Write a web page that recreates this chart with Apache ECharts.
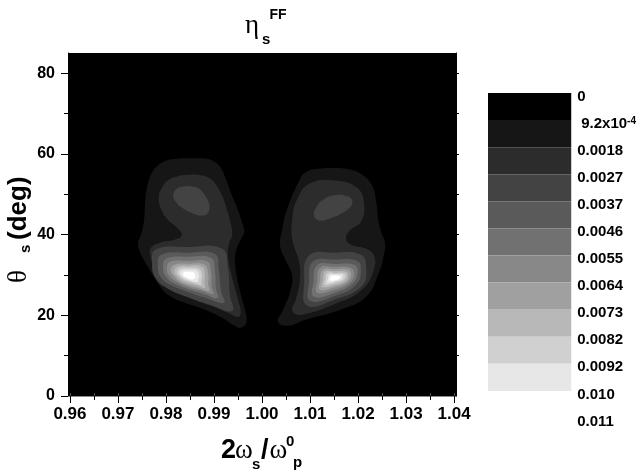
<!DOCTYPE html>
<html><head><meta charset="utf-8">
<script src="https://cdn.jsdelivr.net/npm/echarts@6/dist/echarts.min.js"></script>
<style>html,body{margin:0;padding:0;background:#fff}#c{width:639px;height:473px}</style>
</head><body><div id="c"></div>
<script>
// ---- axis ticks / labels ----
const xTicks = [0.96, 0.97, 0.98, 0.99, 1.00, 1.01, 1.02, 1.03, 1.04];
const xMinorTicks = [0.965, 0.975, 0.985, 0.995, 1.005, 1.015, 1.025, 1.035];
const yTicks = [0, 20, 40, 60, 80];
const yMinorTicks = [10, 30, 50, 70];
const yRightTicks = [10, 20, 30, 40, 50, 60, 70, 80];
const levelLabels = ['0', '9.2x10^-4', '0.0018', '0.0027', '0.0037', '0.0046', '0.0055', '0.0064', '0.0073', '0.0082', '0.0092', '0.010', '0.011'];
const levelColors = ['#000000', '#161616', '#2c2c2c', '#434343', '#5a5a5a', '#717171', '#888888', '#a0a0a0', '#b8b8b8', '#d0d0d0', '#e7e7e7', '#ffffff'];

// ---- contour outlines [2ws/wp, theta_s] ----
const leftL1 = [[0.9823,58.8],[0.9854,58.9],[0.9885,58.8],[0.9902,58.0],[0.9915,56.4],[0.9925,53.7],[0.9935,50.4],[0.9948,46.7],[0.9958,43.2],[0.9963,40.7],[0.9956,38.8],[0.9948,36.8],[0.9944,34.3],[0.9946,30.8],[0.9952,27.1],[0.9960,23.4],[0.9967,20.1],[0.9967,18.1],[0.9956,16.9],[0.9940,17.6],[0.9917,19.4],[0.9881,21.4],[0.9840,23.1],[0.9808,24.8],[0.9788,27.1],[0.9771,30.3],[0.9756,33.3],[0.9744,36.3],[0.9742,37.8],[0.9748,40.0],[0.9754,43.2],[0.9756,46.7],[0.9758,49.9],[0.9763,52.9],[0.9771,55.4],[0.9783,57.1],[0.9800,58.3]];
const leftL2 = [[0.9785,49.4],[0.9792,51.7],[0.9804,53.4],[0.9823,54.4],[0.9846,54.8],[0.9873,54.7],[0.9892,53.9],[0.9904,52.4],[0.9917,49.7],[0.9927,46.2],[0.9935,42.7],[0.9938,40.0],[0.9931,37.5],[0.9929,35.0],[0.9933,31.8],[0.9942,27.6],[0.9950,23.9],[0.9956,20.6],[0.9950,19.6],[0.9929,20.6],[0.9892,22.4],[0.9850,24.3],[0.9813,26.6],[0.9788,29.8],[0.9773,32.5],[0.9767,35.0],[0.9769,36.8],[0.9788,38.0],[0.9819,38.8],[0.9833,39.8],[0.9825,41.5],[0.9804,43.7],[0.9790,46.2]];
const leftUpL3 = [[0.9815,49.7],[0.9821,51.2],[0.9835,51.9],[0.9854,51.9],[0.9871,51.2],[0.9883,49.4],[0.9890,47.5],[0.9888,45.5],[0.9875,44.7],[0.9856,45.2],[0.9835,46.5],[0.9821,48.0]];
const leftL3 = [[0.9779,36.3],[0.9846,36.9],[0.9917,36.5],[0.9929,31.8],[0.9933,25.1],[0.9938,21.1],[0.9892,22.6],[0.9850,24.3],[0.9804,26.6],[0.9779,29.1],[0.9771,32.8]];
const leftL4 = [[0.9790,35.0],[0.9846,35.5],[0.9902,35.2],[0.9910,31.3],[0.9915,25.8],[0.9921,23.1],[0.9883,24.3],[0.9850,25.6],[0.9813,27.3],[0.9790,29.3],[0.9783,32.3]];
const leftL5 = [[0.9800,34.0],[0.9846,34.5],[0.9894,34.2],[0.9902,30.8],[0.9904,26.6],[0.9908,24.3],[0.9879,25.3],[0.9850,26.3],[0.9819,27.8],[0.9800,29.6],[0.9794,31.8]];
const leftL6 = [[0.9808,33.2],[0.9846,33.5],[0.9886,33.3],[0.9894,30.6],[0.9895,27.1],[0.9898,25.3],[0.9875,26.1],[0.9850,26.8],[0.9825,28.1],[0.9808,29.6],[0.9802,31.3]];
const leftL7 = [[0.9817,32.5],[0.9846,32.8],[0.9880,32.5],[0.9888,30.3],[0.9888,27.6],[0.9890,26.1],[0.9871,26.6],[0.9850,27.3],[0.9829,28.3],[0.9817,29.6],[0.9810,31.1]];
const leftL8 = [[0.9823,32.0],[0.9846,32.3],[0.9875,32.0],[0.9881,30.1],[0.9880,28.1],[0.9881,26.8],[0.9867,27.3],[0.9850,27.8],[0.9833,28.6],[0.9823,29.6],[0.9817,30.8]];
const leftL9 = [[0.9829,31.6],[0.9846,31.8],[0.9869,31.5],[0.9875,29.8],[0.9873,28.3],[0.9873,27.6],[0.9863,27.8],[0.9850,28.3],[0.9838,28.8],[0.9829,29.7],[0.9823,30.6]];
const leftL10 = [[0.9834,31.2],[0.9847,31.3],[0.9864,31.1],[0.9869,29.8],[0.9867,28.7],[0.9866,28.3],[0.9856,28.4],[0.9846,28.8],[0.9838,29.2],[0.9832,29.8],[0.9829,30.4]];
const leftL11 = [[0.9839,30.7],[0.9848,30.8],[0.9858,30.6],[0.9861,29.7],[0.9859,29.1],[0.9852,28.9],[0.9844,29.3],[0.9838,29.7],[0.9835,30.2]];

const rightL1 = [[1.0090,55.4],[1.0117,56.3],[1.0152,56.5],[1.0183,56.1],[1.0208,54.9],[1.0229,52.2],[1.0238,48.0],[1.0242,43.7],[1.0248,40.7],[1.0256,38.0],[1.0254,35.0],[1.0242,30.1],[1.0217,24.6],[1.0163,21.4],[1.0090,18.9],[1.0054,17.4],[1.0033,18.4],[1.0044,21.4],[1.0058,25.6],[1.0063,29.6],[1.0052,33.0],[1.0038,37.0],[1.0042,41.2],[1.0052,46.2],[1.0079,53.7]];
const rightL2 = [[1.0100,52.7],[1.0152,53.4],[1.0200,51.4],[1.0213,47.0],[1.0206,43.2],[1.0183,41.0],[1.0175,39.0],[1.0185,37.5],[1.0217,36.5],[1.0233,34.8],[1.0233,31.3],[1.0208,26.3],[1.0154,22.9],[1.0081,20.1],[1.0063,21.1],[1.0071,24.1],[1.0079,28.8],[1.0077,33.3],[1.0063,38.8],[1.0063,43.7],[1.0073,48.7]];
const rightUpL3 = [[1.0108,44.7],[1.0115,47.2],[1.0131,48.9],[1.0154,49.8],[1.0175,49.6],[1.0188,48.4],[1.0183,46.7],[1.0165,45.2],[1.0142,44.0],[1.0119,43.5]];
const rightL3 = [[1.0098,34.8],[1.0152,35.5],[1.0206,35.0],[1.0217,31.8],[1.0208,27.3],[1.0152,23.9],[1.0094,22.4],[1.0088,28.3]];
const rightL4 = [[1.0106,33.3],[1.0152,33.8],[1.0198,33.5],[1.0206,31.1],[1.0196,27.6],[1.0152,24.8],[1.0100,23.6],[1.0098,28.3]];
const rightL5 = [[1.0115,32.4],[1.0152,32.7],[1.0192,32.5],[1.0199,30.6],[1.0188,27.8],[1.0152,25.6],[1.0108,24.6],[1.0107,28.3]];
const rightL6 = [[1.0121,31.8],[1.0152,32.0],[1.0185,31.8],[1.0192,30.2],[1.0182,28.0],[1.0152,26.3],[1.0115,25.6],[1.0115,28.4]];
const rightL7 = [[1.0127,31.3],[1.0152,31.4],[1.0180,31.3],[1.0185,29.9],[1.0177,28.2],[1.0152,27.0],[1.0121,26.3],[1.0121,28.6]];
const rightL8 = [[1.0132,30.9],[1.0152,30.9],[1.0175,30.8],[1.0179,29.7],[1.0173,28.4],[1.0152,27.5],[1.0126,27.0],[1.0127,28.7]];
const rightL9 = [[1.0136,30.5],[1.0152,30.5],[1.0171,30.4],[1.0174,29.6],[1.0169,28.7],[1.0152,28.0],[1.0131,27.6],[1.0132,28.8]];
const rightL10 = [[1.0140,30.1],[1.0153,30.1],[1.0167,30.1],[1.0168,29.4],[1.0165,28.9],[1.0152,28.4],[1.0136,28.1],[1.0137,28.9]];
const rightL11 = [[1.0145,29.8],[1.0154,29.9],[1.0162,29.7],[1.0163,29.3],[1.0160,29.0],[1.0152,28.7],[1.0142,28.6],[1.0141,29.1]];

// drawing order: [level, outline]
const contourList = [
  [1, leftL1], [1, rightL1],
  [2, leftL2], [2, rightL2],
  [3, leftUpL3], [3, rightUpL3], [3, leftL3], [3, rightL3],
  [4, leftL4], [4, rightL4],
  [5, leftL5], [5, rightL5],
  [6, leftL6], [6, rightL6],
  [7, leftL7], [7, rightL7],
  [8, leftL8], [8, rightL8],
  [9, leftL9], [9, rightL9],
  [10, leftL10], [10, rightL10],
  [11, leftL11], [11, rightL11]
];

const SANS = "'Liberation Sans', Arial, sans-serif";
const SERIF = "'Liberation Serif', 'Times New Roman', serif";
const chart = echarts.init(document.getElementById('c'), null, {renderer: 'canvas'});

const hidden = {show: false};
const option = {
  animation: false,
  backgroundColor: '#ffffff',
  grid: [
    {left: 68, top: 53, width: 388, height: 343, show: true, backgroundColor: '#000000', borderWidth: 0},
    {left: 488, top: 93, width: 85, height: 325, show: false}
  ],
  xAxis: [
    {gridIndex: 0, type: 'value', position: 'bottom', min: 0.9596, max: 1.0404,
      axisLine: {show: true, lineStyle: {color: '#000', width: 1}},
      axisTick: {show: true, customValues: xTicks, length: 7, lineStyle: {color: '#000', width: 1}},
      axisLabel: {customValues: xTicks, formatter: v => v.toFixed(2), fontSize: 17, fontWeight: 'bold', fontFamily: SANS, color: '#000', margin: 10},
      splitLine: hidden},
    {gridIndex: 0, type: 'value', position: 'bottom', min: 0.9596, max: 1.0404,
      axisLine: hidden,
      axisTick: {show: true, customValues: xMinorTicks, length: 4, lineStyle: {color: '#000', width: 1}},
      axisLabel: hidden, splitLine: hidden},
    {gridIndex: 0, type: 'value', position: 'top', min: 0.9596, max: 1.0404,
      axisLine: {show: true, lineStyle: {color: '#8a8a8a', width: 1}},
      axisTick: {show: true, customValues: xTicks.concat(xMinorTicks), length: 3, lineStyle: {color: '#444', width: 1}},
      axisLabel: hidden, splitLine: hidden},
    {gridIndex: 1, type: 'value', min: 0, max: 1, show: false}
  ],
  yAxis: [
    {gridIndex: 0, type: 'value', position: 'left', min: 0, max: 85,
      axisLine: {show: true, lineStyle: {color: '#000', width: 1}},
      axisTick: {show: true, customValues: yTicks, length: 7, lineStyle: {color: '#000', width: 1}},
      axisLabel: {customValues: yTicks, fontSize: 16, fontWeight: 'bold', fontFamily: SANS, color: '#000', margin: 13},
      splitLine: hidden},
    {gridIndex: 0, type: 'value', position: 'left', min: 0, max: 85,
      axisLine: hidden,
      axisTick: {show: true, customValues: yMinorTicks, length: 4, lineStyle: {color: '#000', width: 1}},
      axisLabel: hidden, splitLine: hidden},
    {gridIndex: 0, type: 'value', position: 'right', min: 0, max: 85,
      axisLine: {show: true, lineStyle: {color: '#000', width: 1}},
      axisTick: {show: true, customValues: yRightTicks, length: 3, lineStyle: {color: '#000', width: 1}},
      axisLabel: hidden, splitLine: hidden},
    {gridIndex: 1, type: 'value', position: 'right', min: 0, max: 12, inverse: true,
      axisLine: hidden, axisTick: hidden, splitLine: hidden,
      axisLabel: {customValues: levelLabels.map((t, i) => i), margin: 6, padding: [7, 0, 0, 0],
        fontSize: 15, fontWeight: 'bold', fontFamily: SANS, color: '#000',
        formatter: v => levelLabels[v].indexOf('^') >= 0
          ? '{m|' + levelLabels[v].split('^')[0] + '}{e|' + levelLabels[v].split('^')[1] + '}'
          : levelLabels[v],
        rich: {
          m: {fontSize: 15, fontWeight: 'bold', fontFamily: SANS, color: '#000', padding: [0, 0, 0, 4]},
          e: {fontSize: 10, fontWeight: 'bold', fontFamily: SANS, color: '#000', verticalAlign: 'top'}
        }}}
  ],
  series: [
    {type: 'custom', xAxisIndex: 0, yAxisIndex: 0, silent: true,
      data: contourList.map((c, i) => [c[1][0][0], c[1][0][1], i]),
      renderItem: (params, api) => {
        const c = contourList[api.value(2)];
        const pts = c[1].map(p => api.coord(p));
        return {type: 'polygon', shape: {points: pts, smooth: 0.45}, style: {fill: levelColors[c[0]], stroke: null}};
      }},
    {type: 'custom', xAxisIndex: 3, yAxisIndex: 3, silent: true,
      data: levelColors.map((c, k) => [0, k]),
      renderItem: (params, api) => {
        const k = api.value(1);
        const p0 = api.coord([0, k]);
        const p1 = api.coord([1, k + 1]);
        return {type: 'rect', shape: {x: p0[0], y: Math.min(p0[1], p1[1]), width: p1[0] - p0[0], height: Math.abs(p1[1] - p0[1])},
          style: {fill: levelColors[k], stroke: null}};
      }}
  ],
  graphic: [
    {type: 'text', x: 245, y: 26, style: {text: 'η', fontSize: 27, fontFamily: SERIF, fill: '#000', align: 'left', verticalAlign: 'middle'}},
    {type: 'text', x: 262, y: 40, style: {text: 's', fontSize: 15, fontWeight: 'bold', fontFamily: SANS, fill: '#000', align: 'left', verticalAlign: 'middle'}},
    {type: 'text', x: 269.5, y: 15, style: {text: 'FF', fontSize: 14, fontWeight: 'bold', fontFamily: SANS, fill: '#000', align: 'left', verticalAlign: 'middle'}},

    {type: 'text', x: 221, y: 450.5, style: {text: '2', fontSize: 27, fontWeight: 'bold', fontFamily: SANS, fill: '#000', align: 'left', verticalAlign: 'middle'}},
    {type: 'text', x: 235, y: 450.5, style: {text: 'ω', fontSize: 27, fontFamily: SERIF, fill: '#000', align: 'left', verticalAlign: 'middle'}},
    {type: 'text', x: 252, y: 464.7, style: {text: 's', fontSize: 15, fontWeight: 'bold', fontFamily: SANS, fill: '#000', align: 'left', verticalAlign: 'middle'}},
    {type: 'text', x: 261, y: 450.5, style: {text: '/', fontSize: 27, fontWeight: 'bold', fontFamily: SANS, fill: '#000', align: 'left', verticalAlign: 'middle'}},
    {type: 'text', x: 269.5, y: 450.5, style: {text: 'ω', fontSize: 27, fontFamily: SERIF, fill: '#000', align: 'left', verticalAlign: 'middle'}},
    {type: 'text', x: 286, y: 441.7, style: {text: '0', fontSize: 15, fontWeight: 'bold', fontFamily: SANS, fill: '#000', align: 'left', verticalAlign: 'middle'}},
    {type: 'text', x: 293, y: 462.7, style: {text: 'p', fontSize: 15, fontWeight: 'bold', fontFamily: SANS, fill: '#000', align: 'left', verticalAlign: 'middle'}},

    {type: 'group', x: 28, y: 283, rotation: Math.PI / 2, children: [
      {type: 'text', x: 0, y: -9.5, style: {text: 'θ', fontSize: 27, fontFamily: SERIF, fill: '#000', align: 'left', verticalAlign: 'middle'}},
      {type: 'text', x: 30, y: -2, style: {text: 's', fontSize: 15, fontWeight: 'bold', fontFamily: SANS, fill: '#000', align: 'left', verticalAlign: 'middle'}},
      {type: 'text', x: 43, y: -9.1, style: {text: '(deg)', fontSize: 26, fontWeight: 'bold', fontFamily: SANS, fill: '#000', align: 'left', verticalAlign: 'middle'}}
    ]}
  ]
};
chart.setOption(option);
</script>
</body></html>
